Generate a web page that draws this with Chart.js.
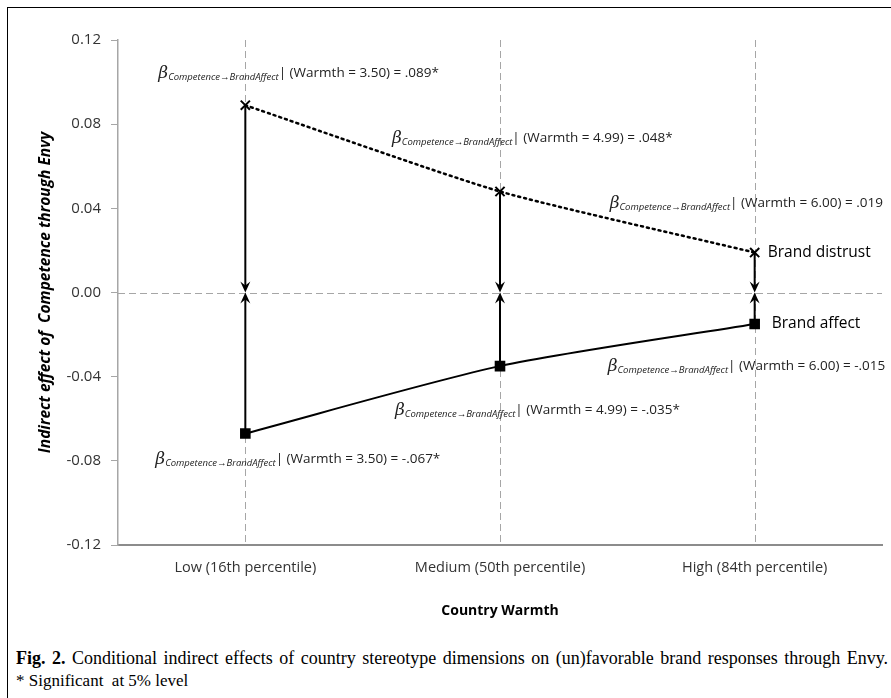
<!DOCTYPE html>
<html>
<head>
<meta charset="utf-8">
<script src="https://cdn.jsdelivr.net/npm/chart.js@4.4.1/dist/chart.umd.min.js"></script>
<style>
  html, body { margin: 0; padding: 0; background: #fff; width: 891px; height: 698px; overflow: hidden; }
  #frame { position: absolute; left: 7px; top: 7px; width: 950px; height: 750px; border: 1px solid #000; }
  #chart { position: absolute; left: 0; top: 0; }
  .cap { position: absolute; left: 16px; font-family: "Liberation Serif", "Times New Roman", serif; font-size: 18px; line-height: 20px; color: #000; white-space: nowrap; }
  #cap1 { top: 648px; width: 872px; text-align: justify; text-align-last: justify; }
  #cap2 { top: 671px; font-size: 17px; }
</style>
</head>
<body>
<div id="frame"></div>
<canvas id="chart" width="891" height="640"></canvas>
<div class="cap" id="cap1"><b>Fig. 2.</b> Conditional indirect effects of country stereotype dimensions on (un)favorable brand responses through Envy.</div>
<div class="cap" id="cap2">* Significant&nbsp; at 5% level</div>
<script>
// chart data
var categories = ['Low (16th percentile)', 'Medium (50th percentile)', 'High (84th percentile)'];
var warmth = ['3.50', '4.99', '6.00'];
var distrust = [0.089, 0.048, 0.019];
var affect = [-0.067, -0.035, -0.015];
var distrustSig = [true, true, false];
var affectSig = [true, true, false];
var yTicks = [-0.12, -0.08, -0.04, 0.00, 0.04, 0.08, 0.12];

// label offsets from each point (px), left edge / baseline
var distrustLabelPos = [[-87, -28], [-108, -50], [-145, -46]];
var affectLabelPos = [[-90, 30], [-105, 48], [-147, 46]];

function fmt(v, sig) {
  var s = Math.abs(v).toFixed(3).replace(/^0/, '');
  return (v < 0 ? '-' : '') + s + (sig ? '*' : '');
}

function betaLabel(ctx, x, y, tail) {
  ctx.fillStyle = '#222';
  ctx.textAlign = 'left';
  ctx.textBaseline = 'alphabetic';
  ctx.font = 'italic 17px "DejaVu Serif", serif';
  ctx.fillText('\u03B2', x, y + 1);
  var w = ctx.measureText('\u03B2').width;
  ctx.font = 'italic 9.5px "Open Sans", sans-serif';
  var sub = 'Competence\u2192BrandAffect';
  ctx.fillText(sub, x + w, y + 3);
  w += ctx.measureText(sub).width;
  ctx.font = '13.5px "Open Sans", sans-serif';
  ctx.fillText('| ' + tail, x + w, y);
}

function arrow(ctx, px, from, to) {
  var dir = to > from ? 1 : -1;
  var len = 11, half = 5;
  ctx.beginPath();
  ctx.moveTo(px, from);
  ctx.lineTo(px, to - dir * 6);
  ctx.stroke();
  ctx.beginPath();
  ctx.moveTo(px, to);
  ctx.lineTo(px - half, to - dir * len);
  ctx.lineTo(px, to - dir * (len - 4));
  ctx.lineTo(px + half, to - dir * len);
  ctx.closePath();
  ctx.fill();
}

var annotations = {
  id: 'annotations',
  beforeDatasetsDraw: function(chart) {
    var ctx = chart.ctx, a = chart.chartArea, x = chart.scales.x, y = chart.scales.y;
    ctx.save();
    ctx.strokeStyle = '#a6a6a6';
    ctx.lineWidth = 1;
    ctx.setLineDash([7, 4]);
    categories.forEach(function(c, i) {
      var px = Math.round(x.getPixelForValue(i)) + 0.5;
      ctx.beginPath(); ctx.moveTo(px, a.top); ctx.lineTo(px, a.bottom); ctx.stroke();
    });
    var y0 = Math.round(y.getPixelForValue(0)) + 0.5;
    ctx.beginPath(); ctx.moveTo(a.left, y0); ctx.lineTo(a.right, y0); ctx.stroke();
    ctx.setLineDash([]);
    ctx.strokeStyle = '#000';
    ctx.fillStyle = '#000';
    ctx.lineWidth = 2;
    [distrust, affect].forEach(function(series) {
      series.forEach(function(v, i) {
        arrow(ctx, x.getPixelForValue(i), y.getPixelForValue(v), y.getPixelForValue(0));
      });
    });
    ctx.restore();
  },
  afterDatasetsDraw: function(chart) {
    var ctx = chart.ctx, x = chart.scales.x, y = chart.scales.y;
    ctx.save();
    distrust.forEach(function(v, i) {
      var p = distrustLabelPos[i];
      betaLabel(ctx, x.getPixelForValue(i) + p[0], y.getPixelForValue(v) + p[1],
        '(Warmth = ' + warmth[i] + ') = ' + fmt(v, distrustSig[i]));
    });
    affect.forEach(function(v, i) {
      var p = affectLabelPos[i];
      betaLabel(ctx, x.getPixelForValue(i) + p[0], y.getPixelForValue(v) + p[1],
        '(Warmth = ' + warmth[i] + ') = ' + fmt(v, affectSig[i]));
    });
    // series names at the last point
    var last = categories.length - 1;
    ctx.fillStyle = '#000';
    ctx.font = '15.5px "Open Sans", sans-serif';
    ctx.textBaseline = 'middle';
    ctx.fillText('Brand distrust', x.getPixelForValue(last) + 13, y.getPixelForValue(distrust[last]));
    ctx.fillText('Brand affect', x.getPixelForValue(last) + 17, y.getPixelForValue(affect[last]));
    ctx.restore();
  }
};

new Chart(document.getElementById('chart'), {
  type: 'line',
  data: {
    labels: categories,
    datasets: [
      {
        label: 'Brand distrust',
        data: distrust,
        borderColor: '#000',
        borderWidth: 2.5,
        borderDash: [2, 4],
        borderCapStyle: 'round',
        tension: 0.2,
        pointStyle: 'crossRot',
        pointRadius: 6.5,
        pointBorderWidth: 2,
        pointBorderColor: '#000',
        pointBackgroundColor: '#000'
      },
      {
        label: 'Brand affect',
        data: affect,
        borderColor: '#000',
        borderWidth: 2,
        tension: 0.25,
        pointStyle: 'rect',
        pointRadius: 7.5,
        pointBorderWidth: 0,
        pointBackgroundColor: '#000'
      }
    ]
  },
  options: {
    responsive: false,
    animation: false,
    layout: { padding: { left: 0, top: 40, right: 9, bottom: 0 } },
    plugins: { legend: { display: false }, tooltip: { enabled: false } },
    scales: {
      x: {
        type: 'category',
        offset: true,
        grid: { display: false, drawTicks: false },
        border: { color: '#8c8c8c', width: 2 },
        ticks: { color: '#333', padding: 14, font: { family: '"Open Sans", sans-serif', size: 14.5 } },
        title: {
          display: true,
          text: 'Country Warmth',
          color: '#000',
          font: { family: '"Open Sans", sans-serif', size: 14, weight: 'bold' },
          padding: { top: 0, bottom: 21 }
        },
        afterFit: function(s) { s.height = 95; }
      },
      y: {
        min: -0.12,
        max: 0.12,
        afterBuildTicks: function(s) { s.ticks = yTicks.map(function(v) { return { value: v }; }); },
        ticks: {
          color: '#333',
          padding: 10,
          font: { family: '"Open Sans", sans-serif', size: 15 },
          callback: function(v) { return v.toFixed(2); }
        },
        grid: { drawOnChartArea: false, tickLength: 7, color: '#a6a6a6' },
        border: { color: '#a6a6a6', width: 1.5 },
        title: {
          display: true,
          text: 'Indirect effect of  Competence through Envy',
          color: '#000',
          font: { family: '"Open Sans", sans-serif', size: 15.5, weight: 'bold', style: 'italic' },
          padding: { top: 36, bottom: 0 }
        },
        afterFit: function(s) { s.width = 118; }
      }
    }
  },
  plugins: [annotations]
});
</script>
</body>
</html>
